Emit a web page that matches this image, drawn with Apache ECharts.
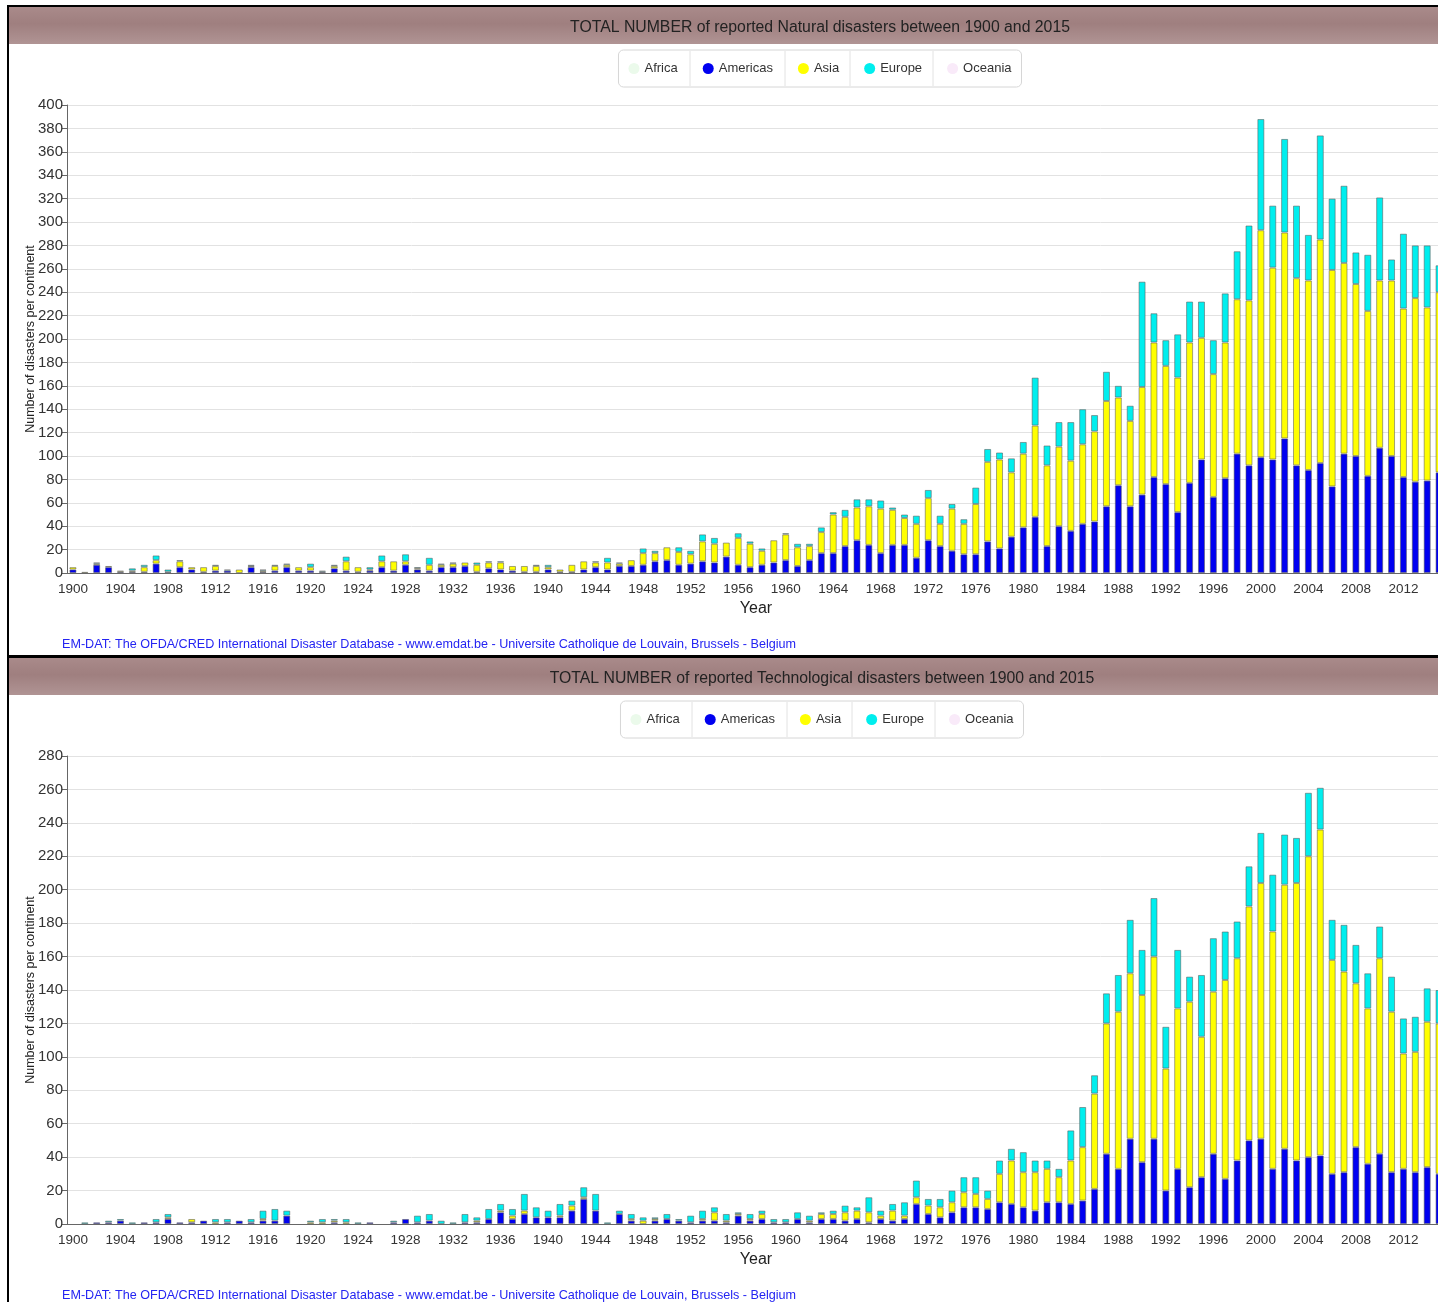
<!DOCTYPE html>
<html>
<head>
<meta charset="utf-8">
<title>EM-DAT disasters per continent</title>
<script src="https://cdn.jsdelivr.net/npm/echarts@6.0.0/dist/echarts.min.js"></script>
<style>
  html, body { margin: 0; padding: 0; background: #fff; overflow: hidden; width: 1438px; height: 1302px; }
  #frame { position: absolute; left: 7px; top: 5px; width: 1700px; height: 1400px; border-left: 2px solid #000; border-top: 2px solid #000; }
  #sep { position: absolute; left: 7px; top: 655px; width: 1700px; height: 3px; background: #000; }
  #natural { position: absolute; left: 9px; top: 7px; width: 1622px; height: 648px; }
  #techno { position: absolute; left: 9px; top: 658px; width: 1626px; height: 648px; }
</style>
</head>
<body>
<div id="frame"></div>
<div id="natural"></div>
<div id="sep"></div>
<div id="techno"></div>
<script>
// years 1900 - 2015
var years = [];
for (var y = 1900; y <= 2015; y++) years.push(String(y));

var continents = ['Africa', 'Americas', 'Asia', 'Europe', 'Oceania'];
var yTicksNatural = { max: 400, step: 20 };
var yTicksTechno = { max: 280, step: 20 };

// natural disasters (no Africa / Oceania bars visible in the picture)
var natAfrica = [];
var natOceania = [];
var natAmericas = [
  3,0,7,5,1,1,1,8,1,5, 3,1,2,2,0,5,1,2,5,2, 2,1,4,2,1,2,5,2,7,3,
  2,5,5,6,1,4,3,2,1,1, 3,1,1,3,5,3,6,6,7,10, 11,7,8,10,9,14,7,5,7,9,
  11,6,11,17,17,23,28,24,17,24, 24,13,28,23,19,16,16,27,21,31, 39,48,23,40,36,42,44,57,75,57,
  67,82,76,52,77,97,65,81,102,92, 99,97,115,92,88,94,74,102,100,83, 107,100,82,78,79,86
];
var natAsia = [
  2,1,1,1,1,1,4,3,0,5, 2,4,4,0,3,1,1,4,2,3, 3,0,2,8,4,1,5,8,3,1,
  5,2,3,3,6,5,6,4,5,5, 2,2,6,7,4,6,2,5,10,7, 11,11,8,17,16,12,23,20,12,19,
  22,16,12,18,33,25,28,33,38,30, 23,29,36,19,36,26,43,68,76,55, 63,78,69,68,60,68,77,90,75,73,
  92,115,101,115,120,104,105,116,132,141, 194,164,176,160,162,191,185,163,147,141, 143,150,144,157,148,154
];
var natEurope = [
  0,0,1,0,0,2,2,4,2,1, 0,0,1,1,0,1,1,1,1,0, 3,1,1,4,0,2,5,0,6,1,
  6,1,1,0,2,1,1,0,0,1, 2,0,0,0,1,4,1,0,4,2, 0,4,3,6,5,0,4,2,2,0,
  1,3,2,4,2,6,7,6,7,2, 3,7,7,7,4,4,14,11,6,12, 10,41,17,21,33,30,14,25,10,13,
  90,25,22,37,35,31,29,42,41,64, 95,53,80,62,39,89,61,66,27,48, 71,18,64,45,53,23
];

// technological disasters
var tecAfrica = [];
var tecOceania = [];
var tecAmericas = [
  0,0,1,1,2,0,1,1,3,1, 1,2,0,1,2,1,2,2,5,0, 0,0,1,0,0,1,0,1,3,1,
  2,0,0,1,1,3,7,3,6,4, 4,4,8,15,8,0,6,2,0,2, 3,2,1,2,2,1,5,2,3,1,
  1,3,1,3,3,2,3,1,3,2, 3,12,6,4,7,10,10,9,13,12, 10,8,13,13,12,14,21,42,33,51,
  37,51,20,33,22,28,42,27,38,50, 51,33,45,38,40,41,30,31,46,36, 42,31,33,31,34,30
];
var tecAsia = [
  0,0,0,0,0,0,0,0,1,0, 2,0,1,0,0,0,1,0,0,0, 1,1,1,1,0,0,0,0,0,0,
  0,0,0,0,1,0,1,2,2,0, 0,1,3,1,0,0,0,1,2,1, 0,0,0,1,5,1,1,1,3,0,
  0,0,1,3,3,5,5,6,2,6, 2,4,5,6,6,9,8,6,17,26, 21,23,20,15,26,32,57,78,94,99,
  100,109,73,96,111,84,97,119,121,140, 153,142,158,166,180,195,128,120,98,93, 117,96,69,72,87,90
];
var tecEurope = [
  0,1,0,1,1,1,0,2,2,0, 0,0,2,2,0,2,5,7,3,0, 1,2,1,2,1,0,0,1,0,4,
  4,2,1,5,2,6,4,4,10,6, 4,7,3,6,10,1,2,3,2,1, 3,1,4,5,3,4,1,3,2,2,
  2,4,3,1,2,4,2,9,3,4, 8,10,4,5,7,9,10,5,8,7, 12,7,5,5,18,24,11,18,22,32,
  27,35,25,35,15,37,32,29,22,24, 30,34,30,27,38,25,24,28,23,21, 19,21,21,21,20,20
];

var colors = {
  Africa: '#ebfaeb',
  Americas: '#0000f0',
  Asia: '#ffff00',
  Europe: '#00eeee',
  Oceania: '#f9eaf9'
};

var sourceText = 'EM-DAT: The OFDA/CRED International Disaster Database - www.emdat.be - Universite Catholique de Louvain, Brussels - Belgium';

function makeSeries(name, data) {
  return {
    name: name,
    type: 'bar',
    stack: 'total',
    barWidth: 7,
    // a year with no event draws nothing (no border stub)
    data: data.map(function (v) { return v === 0 ? '-' : v; }),
    itemStyle: {
      color: colors[name],
      borderColor: 'rgba(90,90,90,0.55)',
      borderWidth: 1
    }
  };
}

function buildOption(cfg) {
  var cx = cfg.width / 2;
  // legend separators, offsets from the legend centre
  var sepOffsets = [-130, -35, 30, 113];
  var graphics = [
    {
      type: 'rect', z: -10, silent: true,
      shape: { x: 0, y: 0, width: cfg.width, height: 37 },
      style: {
        fill: new echarts.graphic.LinearGradient(0, 0, 0, 1, [
          { offset: 0, color: '#a98a8a' },
          { offset: 0.45, color: '#9f7f7f' },
          { offset: 1, color: '#b09494' }
        ])
      }
    },
    {
      type: 'text', left: 53, top: 631,
      style: { text: sourceText, fill: '#2424f2', font: '12.6px Arial, "Liberation Sans", sans-serif' }
    }
  ];
  sepOffsets.forEach(function (o) {
    graphics.push({
      type: 'line', silent: true, z: 100,
      shape: { x1: cx + o, y1: 44, x2: cx + o, y2: 79 },
      style: { stroke: '#e2e2e2', lineWidth: 1 }
    });
  });

  return {
    animation: false,
    textStyle: { fontFamily: 'Arial, "Liberation Sans", sans-serif' },
    title: {
      text: cfg.title,
      left: 'center',
      top: 8,
      textStyle: { fontSize: 15.8, fontWeight: 'normal', color: '#222' }
    },
    legend: {
      left: 'center',
      top: 43,
      icon: 'circle',
      itemWidth: 11,
      itemHeight: 11,
      itemGap: 25,
      padding: [12, 10, 12, 10],
      borderColor: '#d6d6d6',
      borderWidth: 1,
      borderRadius: 5,
      itemStyle: { borderWidth: 0 },
      textStyle: { fontSize: 13, color: '#333' },
      data: continents
    },
    graphic: graphics,
    grid: { left: 58, right: cfg.width - 1436, top: 98, bottom: 82, outerBoundsMode: 'none' },
    xAxis: {
      type: 'category',
      data: years,
      name: 'Year',
      nameLocation: 'middle',
      nameGap: 25,
      nameTextStyle: { fontSize: 16, color: '#222' },
      axisLine: { lineStyle: { color: '#666' } },
      axisTick: { interval: 1, alignWithLabel: true, length: 5, lineStyle: { color: '#666' } },
      axisLabel: { interval: 3, fontSize: 13.5, color: '#333', margin: 9 }
    },
    yAxis: {
      type: 'value',
      min: 0,
      max: cfg.ticks.max,
      interval: cfg.ticks.step,
      name: 'Number of disasters per continent',
      nameLocation: 'middle',
      nameGap: 30,
      nameMoveOverlap: false,
      nameTextStyle: { fontSize: 12.5, color: '#222' },
      axisLine: { show: true, lineStyle: { color: '#666' } },
      axisTick: { show: true, length: 5, lineStyle: { color: '#666' } },
      axisLabel: { fontSize: 15, color: '#333', margin: 4 },
      splitLine: { lineStyle: { color: '#e2e2e2' } }
    },
    series: [
      makeSeries('Africa', cfg.data[0]),
      makeSeries('Americas', cfg.data[1]),
      makeSeries('Asia', cfg.data[2]),
      makeSeries('Europe', cfg.data[3]),
      makeSeries('Oceania', cfg.data[4])
    ]
  };
}

function setEchart(id, option) {
  var chart = echarts.init(document.getElementById(id));
  chart.setOption(option);
  return chart;
}

setEchart('natural', buildOption({
  width: 1622,
  title: 'TOTAL NUMBER of reported Natural disasters between 1900 and 2015',
  ticks: yTicksNatural,
  data: [natAfrica, natAmericas, natAsia, natEurope, natOceania]
}));

setEchart('techno', buildOption({
  width: 1626,
  title: 'TOTAL NUMBER of reported Technological disasters between 1900 and 2015',
  ticks: yTicksTechno,
  data: [tecAfrica, tecAmericas, tecAsia, tecEurope, tecOceania]
}));
</script>
</body>
</html>
